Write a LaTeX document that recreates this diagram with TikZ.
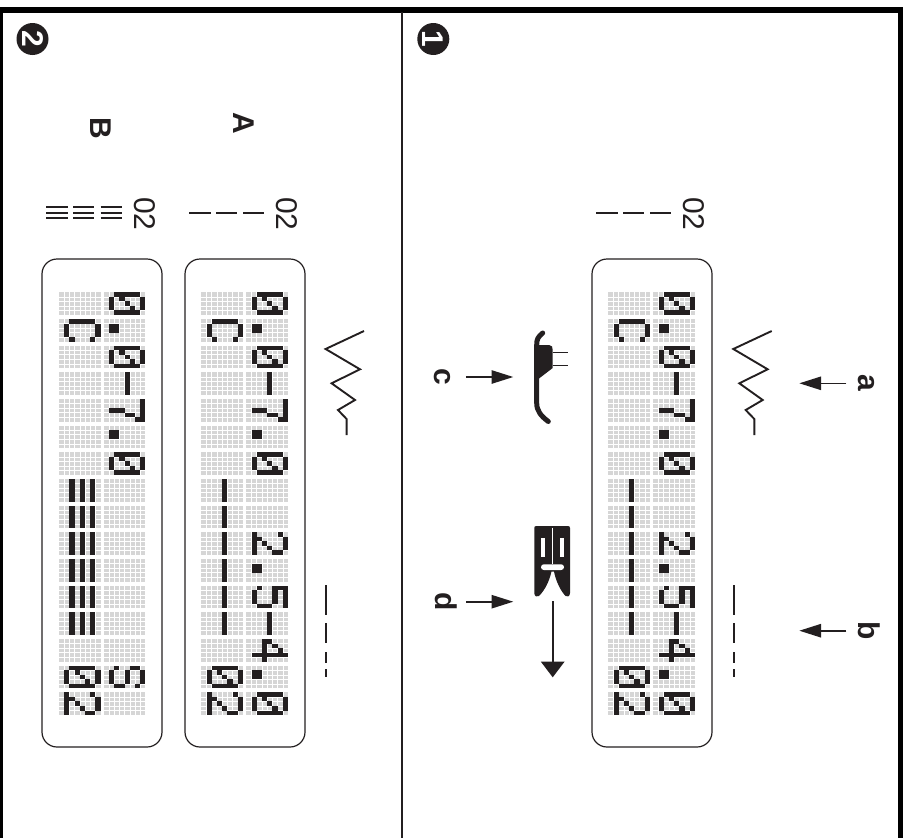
\documentclass[tikz,border=0pt]{standalone}
\usepackage{fontspec}
\setmainfont{Liberation Sans}
\usetikzlibrary{arrows.meta}
\definecolor{ink}{HTML}{231F20}
\definecolor{lcdgrey}{HTML}{D6D6D6}

\def\glyphzero{0/1,0/2,0/3,1/0,1/4,2/0,2/3,2/4,3/0,3/2,3/4,4/0,4/1,4/4,5/0,5/4,6/1,6/2,6/3}
\def\glyphtwo{0/1,0/2,0/3,1/0,1/4,2/4,3/3,4/2,5/1,6/0,6/1,6/2,6/3,6/4}
\def\glyphfour{0/3,1/2,1/3,2/1,2/3,3/0,3/3,4/0,4/1,4/2,4/3,4/4,5/3,6/3}
\def\glyphfive{0/0,0/1,0/2,0/3,0/4,1/0,2/0,2/1,2/2,2/3,3/4,4/4,5/0,5/4,6/1,6/2,6/3}
\def\glyphseven{0/0,0/1,0/2,0/3,0/4,1/4,2/3,3/3,4/2,5/2,6/2}
\def\glyphC{0/1,0/2,0/3,1/0,1/4,2/0,3/0,4/0,5/0,5/4,6/1,6/2,6/3}
\def\glyphS{0/1,0/2,0/3,1/0,1/4,2/0,3/1,3/2,3/3,4/4,5/0,5/4,6/1,6/2,6/3}
\def\glyphdash{3/0,3/1,3/2,3/3,3/4}
\def\glyphdot{5/1,5/2,6/1,6/2}
\def\glyphbars{1/0,1/1,1/2,1/3,1/4,3/0,3/1,3/2,3/3,3/4,5/0,5/1,5/2,5/3,5/4}

\newcommand{\lcdblank}[2]{
  \fill[lcdgrey] (#1,292.3+#2*26.67) rectangle ++(41.7,22.7);
  \foreach \r in {1,...,7}
    \draw[white,line width=.5pt] (#1+\r*5.21,292.3+#2*26.67) -- ++(0,22.7);
  \foreach \c in {1,...,4}
    \draw[white,line width=.5pt] (#1,292.3+#2*26.67+\c*4.54) -- ++(41.7,0);
}
\newcommand{\lcdglyph}[3]{
  \expandafter\let\expandafter\curglyph\csname glyph#3\endcsname
  \foreach \r/\c in \curglyph
    \fill[ink] (#1+41.7-\r*5.21-5.21,292.3+#2*26.67+\c*4.54) rectangle ++(5.21,4.54);
}
\newcommand{\lcdcolumn}[2]{
  \foreach \n in {0,...,15}{\lcdblank{#1}{\n}}
  \foreach \n/\g in #2 {\lcdglyph{#1}{\n}{\g}}
}
\def\lowerdash{1/C,7/dash,8/dash,9/dash,10/dash,11/dash,12/dash,14/zero,15/two}
\def\upperdash{0/zero,1/dot,2/zero,3/dash,4/seven,5/dot,6/zero,9/two,10/dot,11/five,12/dash,13/four,14/dot,15/zero}
\def\lowerbars{1/C,7/bars,8/bars,9/bars,10/bars,11/bars,12/bars,14/zero,15/two}
\def\upperbars{0/zero,1/dot,2/zero,3/dash,4/seven,5/dot,6/zero,14/S}

\begin{document}
\begin{tikzpicture}[x=1pt, y=-1pt,
  every node/.style={inner sep=0pt, outer sep=0pt, text=ink},
  panel/.style={draw=ink, line width=1.2pt, rounded corners=15pt, minimum width=120pt, minimum height=488pt},
  badge/.style={circle, fill=ink, minimum size=32pt, text=white, rotate=-90, font=\fontsize{30}{30}\selectfont\bfseries},
  tag/.style={rotate=-90, anchor=base, font=\fontsize{30}{30}\selectfont\bfseries},
  code/.style={rotate=-90, anchor=base, font=\fontsize{30}{30}\selectfont},
  pointer/.style={draw=ink, line width=1.6pt, -{Triangle[length=21.7pt,width=13.3pt]}},
  stitch/.style={draw=ink, line width=1.9pt}]
\useasboundingbox (0,0) rectangle (910,838);

\fill[black] (0,6.7) rectangle (903.3,12.7);
\fill[black] (0,6.7) rectangle (2.7,838);
\fill[black] (897.5,6.7) rectangle (903.3,838);
\fill[ink] (400.8,12) rectangle (403,838);

\node[badge] (two) at (32.5,39) {2};
\node[badge] (one) at (433.3,39) {1};

\node[tag] (labA) at (233,123) {A};
\node[tag] (labB) at (90,128) {B};
\node[code] (codeone) at (683.7,214) {02};
\node[code] (codeA) at (276.7,214) {02};
\node[code] (codeB) at (134.3,214) {02};

\node[panel] (panelone) at (652,503) {};
\node[panel] (panelA) at (245,503) {};
\node[panel] (panelB) at (102,503) {};

\lcdcolumn{608.3}{\lowerdash}
\lcdcolumn{653.3}{\upperdash}
\lcdcolumn{201.3}{\lowerdash}
\lcdcolumn{246.3}{\upperdash}
\lcdcolumn{59}{\lowerbars}
\lcdcolumn{103.7}{\upperbars}

% dash marks beside the codes
\foreach \xa/\xb in {596.3/617.7,623/644.3,650.3/671.3,189.3/210.7,216/237.3,243.3/264.3}
  \draw[draw=ink, line width=1.7pt] (\xa,212.7) -- (\xb,212.7);
\foreach \xa/\xb in {46/67.7,73.3/94.3,100.7/122}
  \foreach \yy in {207.3,212.7,218.4}
    \draw[draw=ink, line width=1.9pt] (\xa,\yy) -- (\xb,\yy);

% stitches
\foreach \dx in {0,-407.7}{
  \draw[stitch] (771.7+\dx,331) -- (733.3+\dx,349) -- (767.7+\dx,369.3) -- (739.3+\dx,383.3) -- (762.7+\dx,400) -- (745.7+\dx,410) -- (754.3+\dx,419) -- (754.3+\dx,435);
  \foreach \ya/\yb in {585/615,623/643,652/663,669/677}
    \draw[stitch] (734+\dx,\ya) -- (734+\dx,\yb);
}

\node[tag] (laba) at (858.3,383.3) {a};
\node[tag] (labb) at (858.3,630.7) {b};
\node[tag] (labc) at (434,377) {c};
\node[tag] (labd) at (435,601.7) {d};
\coordinate (tipa) at (799.3,383.3);
\coordinate (tipb) at (799.3,630.7);
\coordinate (tipc) at (513.3,377);
\coordinate (tipd) at (513.3,601.7);
\draw[pointer, shorten <=11.6pt] (laba.south) -- (tipa);
\draw[pointer, shorten <=11.6pt] (labb.south) -- (tipb);
\draw[pointer, shorten <=15.7pt] (labc.north) -- (tipc);
\draw[pointer, shorten <=9.7pt] (labd.north) -- (tipd);

% side view of the foot
\draw[draw=ink, line width=5pt, line cap=round] (542.7,333) .. controls (538,337) and (536.7,339) .. (536.7,345) -- (536.7,403) .. controls (536.7,411) and (541,416) .. (548.3,421.5);
\fill[ink] (537,345) -- (549,345) .. controls (552,345) and (552.7,347) .. (552.7,350) -- (552.7,368) -- (539,378.5) -- cycle;
\draw[draw=ink, line width=1.3pt] (552.7,352.3) -- (568.3,352.3);
\draw[draw=ink, line width=1.3pt] (552.7,365.7) -- (568.3,365.7);

% front view of the foot
\fill[ink] (536.3,526) -- (568,526) .. controls (569.3,526) and (570,526.7) .. (570,528) -- (570,593) .. controls (570,596.5) and (567,597.5) .. (565.5,596) .. controls (560,590) and (556,581) .. (554,571.7) -- (551.4,571.7) .. controls (549.4,581) and (545,590) .. (539,596) .. controls (537.5,597.5) and (534.3,596.5) .. (534.3,593) -- (534.3,528) .. controls (534.3,526.7) and (535,526) .. (536.3,526) -- cycle;
\fill[white] (540.7,538.3) rectangle (545,557.3);
\fill[white] (560,538.3) rectangle (564.3,557.3);
\fill[white, rounded corners=2.8pt] (541,564.3) rectangle (564,570);
\draw[white, line width=.6pt] (552.7,527.5) -- (552.7,564.3);
\coordinate (footend) at (552.7,601);
\coordinate (foottip) at (552.7,677.3);
\draw[draw=ink, line width=1.6pt, -{Triangle[length=15.6pt,width=23.3pt]}] (footend) -- (foottip);
\end{tikzpicture}
\end{document}
